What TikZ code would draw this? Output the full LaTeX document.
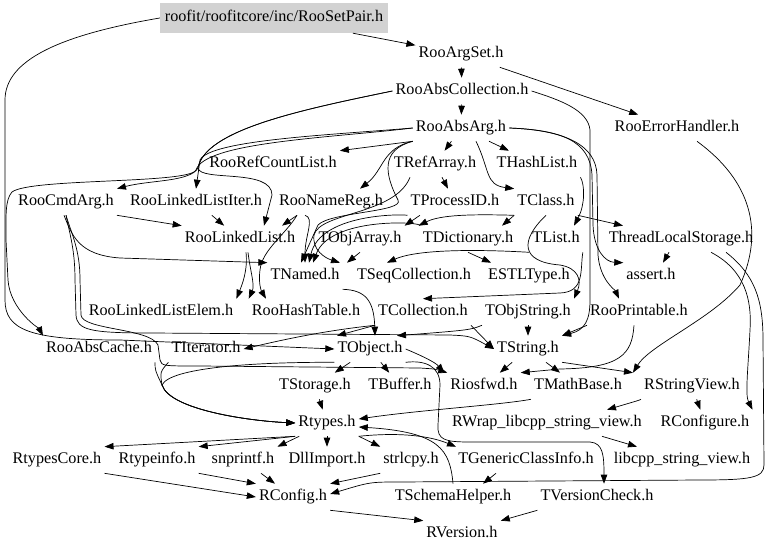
\documentclass[tikz,border=0pt]{standalone}
\usepackage{fontspec}
\setmainfont{Liberation Serif}
\usepackage{tikz}
\usetikzlibrary{arrows.meta}

\begin{document}
\begin{tikzpicture}[x=1pt, y=-1pt, >={Triangle[length=9pt,width=6.5pt]},
    file/.style={inner xsep=3pt, inner ysep=5.5pt, text height=11.5pt, text depth=3.7pt, font=\fontsize{16.2}{19}\selectfont},
    hdr/.style={file, fill=gray!35, minimum width=228pt, minimum height=30pt},
    dep/.style={->, line width=0.7pt}]
    \useasboundingbox (0,0) rectangle (768,553);
    \node (setpair) [hdr] at (274,18) {roofit/roofitcore/inc/RooSetPair.h};
    \node (argset) [file] at (461,54) {RooArgSet.h};
    \node (abscoll) [file] at (462,91) {RooAbsCollection.h};
    \node (absarg) [file] at (461,128) {RooAbsArg.h};
    \node (errhandler) [file] at (677,128) {RooErrorHandler.h};
    \node (refcount) [file] at (273,164) {RooRefCountList.h};
    \node (trefarray) [file] at (435,164) {TRefArray.h};
    \node (thashlist) [file] at (537,164) {THashList.h};
    \node (cmdarg) [file] at (66,202) {RooCmdArg.h};
    \node (lliter) [file] at (196,202) {RooLinkedListIter.h};
    \node (namereg) [file] at (331,202) {RooNameReg.h};
    \node (tprocessid) [file] at (455,202) {TProcessID.h};
    \node (tclass) [file] at (546,202) {TClass.h};
    \node (linkedlist) [file] at (240,239) {RooLinkedList.h};
    \node (tobjarray) [file] at (360,239) {TObjArray.h};
    \node (tdictionary) [file] at (468,239) {TDictionary.h};
    \node (tlist) [file] at (556,239) {TList.h};
    \node (threadlocal) [file] at (681,239) {ThreadLocalStorage.h};
    \node (tnamed) [file] at (305,276) {TNamed.h};
    \node (tseqcoll) [file] at (414,276) {TSeqCollection.h};
    \node (estltype) [file] at (529,276) {ESTLType.h};
    \node (assert) [file] at (651,276) {assert.h};
    \node (llelem) [file] at (161,312) {RooLinkedListElem.h};
    \node (hashtable) [file] at (306,312) {RooHashTable.h};
    \node (tcollection) [file] at (423,312) {TCollection.h};
    \node (tobjstring) [file] at (528,312) {TObjString.h};
    \node (printable) [file] at (639,312) {RooPrintable.h};
    \node (abscache) [file] at (99,349) {RooAbsCache.h};
    \node (titerator) [file] at (206,349) {TIterator.h};
    \node (tobject) [file] at (370,349) {TObject.h};
    \node (tstring) [file] at (528,349) {TString.h};
    \node (tstorage) [file] at (315,386) {TStorage.h};
    \node (tbuffer) [file] at (400,386) {TBuffer.h};
    \node (riosfwd) [file] at (484,386) {Riosfwd.h};
    \node (tmathbase) [file] at (578,386) {TMathBase.h};
    \node (rstringview) [file] at (692,386) {RStringView.h};
    \node (rtypes) [file] at (327,423) {Rtypes.h};
    \node (rwrap) [file] at (547,423) {RWrap\_libcpp\_string\_view.h};
    \node (rconfigure) [file] at (705,423) {RConfigure.h};
    \node (rtypescore) [file] at (57,460) {RtypesCore.h};
    \node (rtypeinfo) [file] at (157,460) {Rtypeinfo.h};
    \node (snprintf) [file] at (243,460) {snprintf.h};
    \node (dllimport) [file] at (327,460) {DllImport.h};
    \node (strlcpy) [file] at (411,460) {strlcpy.h};
    \node (tgeneric) [file] at (526,460) {TGenericClassInfo.h};
    \node (libcpp) [file] at (682,460) {libcpp\_string\_view.h};
    \node (rconfig) [file] at (293,497) {RConfig.h};
    \node (tschema) [file] at (453,497) {TSchemaHelper.h};
    \node (tversion) [file] at (597,497) {TVersionCheck.h};
    \node (rversion) [file] at (462,534) {RVersion.h};

    \draw [dep] (setpair) -- (argset);
    \draw [dep] (setpair.west) .. controls (60,35) and (5,60) .. (5,100) -- (5,300) .. controls (5,330) and (30,340) .. (120,340) -- (tobject.west);
    \draw [dep] (argset) -- (abscoll);
    \draw [dep] (argset) -- (errhandler);
    \draw [dep] (abscoll) -- (absarg);
    \draw [dep] (abscoll.west) .. controls (300,110) and (205,130) .. (198,168) .. controls (190,182) and (150,180) .. (cmdarg.north east);
    \draw [dep] (abscoll.west) .. controls (300,110) and (205,130) .. (198,168) .. controls (200,182) and (272,168) .. (272,195) -- ([xshift=24pt]linkedlist.north);
    \draw [dep] (abscoll.east) .. controls (560,100) and (588,110) .. (590,130) -- (590,300) .. controls (590,320) and (585,330) .. (tstring.north east);
    \draw [dep] (absarg.west) .. controls (330,135) and (210,140) .. (200,160) -- (lliter.north);
    \draw [dep] (absarg.west) .. controls (330,138) and (205,142) .. (196,170) .. controls (190,184) and (30,178) .. (12,192) .. controls (5,200) and (6,215) .. (6,240) -- (8,280) .. controls (10,310) and (40,330) .. (abscache.north west);
    \draw [dep] (absarg.south west) -- (refcount.north east);
    \draw [dep] (absarg.south west) .. controls (382,148) and (384,170) .. ([xshift=29pt]namereg.north);
    \draw [dep] (absarg.south west) .. controls (380,150) and (385,175) .. (398,200) .. controls (405,212) and (330,212) .. (318,225) -- ([xshift=-4pt]tnamed.north);
    \draw [dep] (absarg) -- (trefarray);
    \draw [dep] (absarg) -- (thashlist);
    \draw [dep] ([xshift=15pt]absarg.south) .. controls (490,170) and (485,185) .. (tclass.north west);
    \draw [dep] (absarg.east) .. controls (560,130) and (590,140) .. (592,175) -- (593,225) .. controls (594,250) and (605,262) .. (assert.north west);
    \draw [dep] (absarg.east) .. controls (565,130) and (596,145) .. (597,175) -- (598,255) .. controls (600,280) and (615,290) .. ([xshift=-20pt]printable.north);
    \draw [dep] ([xshift=20pt]errhandler.south) .. controls (750,180) and (765,230) .. (740,285) .. controls (710,320) and (650,345) .. ([xshift=-8pt]rstringview.north west);
    \draw [dep] (cmdarg.south east) -- (linkedlist.north west);
    \draw [dep] ([xshift=-2pt]cmdarg.south) .. controls (72,235) and (78,255) .. (120,258) -- (tnamed.north west);
    \draw [dep] (cmdarg.south) .. controls (70,235) and (75,250) .. (75,280) -- (76,315) .. controls (77,330) and (90,333) .. (150,333) -- (450,335) .. controls (470,336) .. (tstring.west);
    \draw [dep] (cmdarg.south) .. controls (72,235) and (80,250) .. (80,280) -- (81,315) .. controls (82,330) and (150,328) .. (158,345) -- (160,360) .. controls (162,366) .. (200,366) -- (420,368) .. controls (435,369) .. (riosfwd.north west);
    \draw [dep] (lliter) -- (linkedlist);
    \draw [dep] ([xshift=-34pt]namereg.south) -- ([xshift=42pt]linkedlist.north);
    \draw [dep] ([xshift=-34pt]namereg.south) .. controls (285,235) and (262,250) .. (260,270) .. controls (258,285) and (262,292) .. ([xshift=-40pt]hashtable.north);
    \draw [dep] ([xshift=-26pt]namereg.south) .. controls (315,218) and (305,235) .. (tnamed.north);
    \draw [dep] (trefarray) -- (tprocessid);
    \draw [dep] ([xshift=-25pt]trefarray.south) .. controls (395,215) and (320,212) .. (314,235) .. controls (312,250) and (325,258) .. ([xshift=-74pt]tseqcoll.north);
    \draw [dep] (tprocessid.south west) .. controls (400,214) and (320,214) .. ([xshift=4pt]tnamed.north);
    \draw [dep] ([xshift=-35pt]tprocessid.south) -- (tobjarray.north east);
    \draw [dep] (tdictionary.north west) .. controls (425,222) and (330,216) .. ([xshift=8pt]tnamed.north);
    \draw [dep] (tdictionary.south) -- ([xshift=-38pt]estltype.north);
    \draw [dep] (tclass.south west) .. controls (470,214) and (440,215) .. ([xshift=14pt]tobjarray.north east);
    \draw [dep] (tclass.south west) -- ([xshift=34pt]tdictionary.north);
    \draw [dep] (tclass.south east) -- ([xshift=-58pt]threadlocal.north);
    \draw [dep] (tclass.south) .. controls (520,240) and (520,262) .. (560,265) .. controls (578,268) and (582,280) .. (tobjstring.north east);
    \draw [dep] (thashlist.south east) .. controls (585,185) and (585,205) .. ([xshift=18pt]tlist.north);
    \draw [dep] (tlist.south west) .. controls (490,250) and (420,248) .. ([xshift=-27pt]tseqcoll.north);
    \draw [dep] (tlist.south east) .. controls (580,270) and (585,292) .. (560,293) -- (tcollection.north);
    \draw [dep] (tobjarray.south) -- ([xshift=-67pt]tseqcoll.north);
    \draw [dep] ([xshift=30pt]threadlocal.south) .. controls (745,270) and (752,300) .. (750,330) .. controls (748,370) and (745,395) .. (rconfigure.north east);
    \draw [dep] ([xshift=45pt]threadlocal.south) .. controls (755,275) and (763,300) .. (763,340) -- (764,465) .. controls (764,478) and (750,480) .. (700,480) -- (400,482) .. controls (370,482) .. ([yshift=3pt]rconfig.east);
    \draw [dep] ([xshift=-12pt]threadlocal.south) -- ([xshift=12pt]assert.north);
    \draw [dep] ([xshift=6pt]linkedlist.south) .. controls (248,270) and (242,285) .. (llelem.north east);
    \draw [dep] ([xshift=8pt]linkedlist.south) .. controls (250,270) and (255,285) .. (hashtable.north west);
    \draw [dep] (tnamed.south east) .. controls (365,290) and (374,300) .. ([xshift=5pt]tobject.north);
    \draw [dep] (tcollection.south west) -- ([xshift=-33pt]tobject.north);
    \draw [dep] (tcollection.south west) .. controls (330,330) and (290,338) .. (titerator.east);
    \draw [dep] (tcollection.south east) -- (tstring.west);
    \draw [dep] (tobjstring.south west) .. controls (470,330) .. ([xshift=27pt]tobject.north);
    \draw [dep] (tobjstring) -- (tstring);
    \draw [dep] (printable.south west) -- (tstring.north east);
    \draw [dep] ([xshift=-5pt]printable.south) .. controls (632,355) and (620,368) .. (560,369) -- (riosfwd.north east);
    \draw [dep] (tstring) -- (riosfwd);
    \draw [dep] (tstring) -- (tmathbase);
    \draw [dep] (tstring.south east) -- ([xshift=-8pt]rstringview.north west);
    \draw [dep] (tobject) -- (tstorage);
    \draw [dep] (tobject) -- (tbuffer);
    \draw [dep] (tobject.east) .. controls (420,355) and (435,362) .. ([xshift=-3pt]riosfwd.north west);
    \draw [dep] (tobject.south east) .. controls (425,360) and (440,366) .. (440,385) -- (438,425) .. controls (437,440) and (445,442) .. (470,442) -- (590,442) .. controls (603,443) and (604,455) .. ([xshift=7pt]tversion.north);
    \draw [dep] (tobject.south west) .. controls (250,362) and (170,368) .. (162,385) .. controls (170,410) and (250,421) .. (rtypes.west);
    \draw [dep] (titerator.south west) .. controls (160,372) .. (162,385) .. controls (170,410) and (250,421) .. (rtypes.west);
    \draw [dep] (abscache.south east) .. controls (155,370) .. (162,385) .. controls (170,410) and (250,421) .. (rtypes.west);
    \draw [dep] (tstorage) -- (rtypes);
    \draw [dep] (tmathbase.south west) .. controls (500,405) and (420,410) .. ([yshift=4pt]rtypes.east);
    \draw [dep] (rstringview.south west) .. controls (640,400) .. ([xshift=60pt]rwrap.north);
    \draw [dep] (rstringview) -- (rconfigure);
    \draw [dep] (rtypes.south west) -- (rtypescore.north east);
    \draw [dep] (rtypes.south west) -- (rtypeinfo.north east);
    \draw [dep] (rtypes) -- (snprintf.north east);
    \draw [dep] (rtypes) -- (dllimport);
    \draw [dep] (rtypes.south east) -- (strlcpy.north west);
    \draw [dep] (rtypes.south east) .. controls (400,432) and (430,436) .. ([xshift=-70pt]tgeneric.north);
    \draw [dep] ([xshift=55pt]rwrap.south) -- ([xshift=-45pt]libcpp.north);
    \draw [dep] (rtypescore.south east) -- (rconfig.west);
    \draw [dep] (rtypeinfo.south east) -- (rconfig.north west);
    \draw [dep] (snprintf) -- (rconfig);
    \draw [dep] (strlcpy.south west) -- (rconfig.north east);
    \draw [dep] ([xshift=-30pt]tgeneric.south) -- ([xshift=30pt]tschema.north);
    \draw [dep] (tschema.north) .. controls (450,450) and (440,432) .. ([yshift=-4pt]rtypes.east);
    \draw [dep] (rconfig.south east) -- (rversion.north west);
    \draw [dep] (tversion.south west) -- (rversion.north east);
  \end{tikzpicture}
\end{document}
